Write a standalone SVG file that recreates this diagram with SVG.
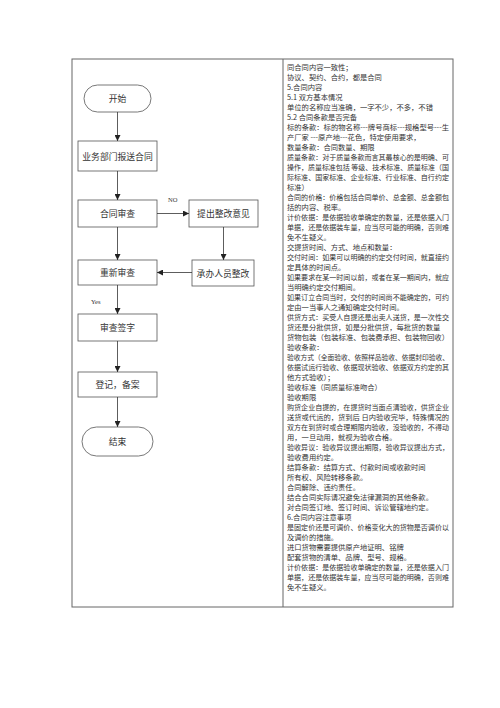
<svg xmlns="http://www.w3.org/2000/svg" width="500" height="708" viewBox="0 0 500 708">
<style>
.frame{fill:none;stroke:#666;stroke-width:1}
.shape{fill:#fff;stroke:#555;stroke-width:0.8}
.lbl{font-family:"Noto Sans CJK SC","Liberation Serif",serif;font-size:8.8px;fill:#333;text-anchor:middle;dominant-baseline:central}
.small{font-family:"Liberation Serif",serif;font-size:6.5px;fill:#333}
.conn line{stroke:#333;stroke-width:0.8;marker-end:url(#ah)}
.body{font-family:"Noto Sans CJK SC","Liberation Serif",serif;font-size:7.3px;fill:#333}
</style>
<defs>
<marker id="ah" markerUnits="userSpaceOnUse" markerWidth="6" markerHeight="6" refX="6" refY="3" orient="auto">
<path d="M0,0 L6,3 L0,6 z" fill="#222"/>
</marker>
</defs>
<rect width="500" height="708" fill="#fff"/>
<g id="table">
<rect class="frame" x="72" y="59" width="381" height="548"/>
<line class="frame" x1="283" y1="59" x2="283" y2="607"/>
</g>
<g id="start"><rect class="shape" x="84" y="85" width="67" height="27" rx="13.5"/><text class="lbl" x="117.5" y="98.5">开始</text></g>
<g id="submit"><rect class="shape" x="78" y="141" width="79" height="30"/><text class="lbl" x="117.5" y="156">业务部门报送合同</text></g>
<g id="review"><rect class="shape" x="78" y="200" width="79" height="27"/><text class="lbl" x="117.5" y="213.5">合同审查</text></g>
<g id="suggest"><rect class="shape" x="189" y="200" width="69" height="27"/><text class="lbl" x="223.5" y="213.5">提出整改意见</text></g>
<g id="fix"><rect class="shape" x="192" y="260" width="62" height="26"/><text class="lbl" x="223" y="273">承办人员整改</text></g>
<g id="rereview"><rect class="shape" x="78" y="260" width="79" height="25"/><text class="lbl" x="117.5" y="272.5">重新审查</text></g>
<g id="sign"><rect class="shape" x="78" y="314" width="79" height="27"/><text class="lbl" x="117.5" y="327.5">审查签字</text></g>
<g id="record"><rect class="shape" x="78" y="372" width="79" height="25"/><text class="lbl" x="117.5" y="384.5">登记，备案</text></g>
<g id="end"><rect class="shape" x="82" y="427" width="71" height="29" rx="14.5"/><text class="lbl" x="117.5" y="441.5">结束</text></g>
<g id="connectors" class="conn">
<line x1="117.5" y1="112" x2="117.5" y2="141"/>
<line x1="117.5" y1="171" x2="117.5" y2="200"/>
<line x1="157" y1="213.5" x2="189" y2="213.5"/>
<line x1="223.5" y1="227" x2="223.5" y2="260"/>
<line x1="192" y1="272.5" x2="157" y2="272.5"/>
<line x1="117.5" y1="227" x2="117.5" y2="260"/>
<line x1="117.5" y1="285" x2="117.5" y2="314"/>
<line x1="117.5" y1="341" x2="117.5" y2="372"/>
<line x1="117.5" y1="397" x2="117.5" y2="427"/>
</g>
<text class="small" x="168" y="201.5">NO</text>
<text class="small" x="91" y="304">Yes</text>
<g id="notes" class="body">
<text x="287" y="69.6">同合同内容一致性；</text>
<text x="287" y="79.6">协议、契约、合约，都是合同</text>
<text x="287" y="89.6">5.合同内容</text>
<text x="287" y="99.6">5.1 双方基本情况</text>
<text x="287" y="109.6">单位的名称应当准确，一字不少，不多，不错</text>
<text x="287" y="119.6">5.2 合同条款是否完备</text>
<text x="287" y="129.6" textLength="162" lengthAdjust="spacingAndGlyphs">标的条款：标的物名称---牌号商标---规格型号---生</text>
<text x="287" y="139.6">产厂家 ---原产地---花色，特定使用要求，</text>
<text x="287" y="149.6">数量条款：合同数量、期限</text>
<text x="287" y="159.6" textLength="162" lengthAdjust="spacingAndGlyphs">质量条款：对于质量条款而言其最核心的是明确、可</text>
<text x="287" y="169.6" textLength="162" lengthAdjust="spacingAndGlyphs">操作，质量标准包括 等级、技术标准、质量标准（国</text>
<text x="287" y="179.6" textLength="162" lengthAdjust="spacingAndGlyphs">际标准、国家标准、企业标准、行业标准、自行约定</text>
<text x="287" y="189.6">标准）</text>
<text x="287" y="199.6" textLength="162" lengthAdjust="spacingAndGlyphs">合同的价格：价格包括合同单价、总金额、总金额包</text>
<text x="287" y="209.6">括的内容、税率。</text>
<text x="287" y="219.6" textLength="162" lengthAdjust="spacingAndGlyphs">计价依据：是依据验收单确定的数量，还是依据入门</text>
<text x="287" y="229.6" textLength="162" lengthAdjust="spacingAndGlyphs">单据，还是依据装车量，应当尽可能的明确，否则难</text>
<text x="287" y="239.6">免不生疑义。</text>
<text x="287" y="249.6">交提货时间、方式、地点和数量：</text>
<text x="287" y="259.6" textLength="162" lengthAdjust="spacingAndGlyphs">交付时间：如果可以明确的约定交付时间，就直接约</text>
<text x="287" y="269.6">定具体的时间点。</text>
<text x="287" y="279.6" textLength="162" lengthAdjust="spacingAndGlyphs">如果要求在某一时间以前，或者在某一期间内，就应</text>
<text x="287" y="289.6">当明确约定交付期间。</text>
<text x="287" y="299.6" textLength="162" lengthAdjust="spacingAndGlyphs">如果订立合同当时，交付的时间尚不能确定的，可约</text>
<text x="287" y="309.6">定由一当事人之通知确定交付时间。</text>
<text x="287" y="319.6" textLength="162" lengthAdjust="spacingAndGlyphs">供货方式：买受人自提还是出卖人送货，是一次性交</text>
<text x="287" y="329.6">货还是分批供货，如是分批供货，每批货的数量</text>
<text x="287" y="339.6" textLength="162" lengthAdjust="spacingAndGlyphs">货物包装（包装标准、包装费承担、包装物回收）</text>
<text x="287" y="349.6">验收条款：</text>
<text x="287" y="359.6" textLength="162" lengthAdjust="spacingAndGlyphs">验收方式（全面验收、依照样品验收、依据封印验收、</text>
<text x="287" y="369.6" textLength="162" lengthAdjust="spacingAndGlyphs">依据试运行验收、依据现状验收、依据双方约定的其</text>
<text x="287" y="379.6">他方式验收）；</text>
<text x="287" y="389.6">验收标准（同质量标准吻合）</text>
<text x="287" y="399.6">验收期限</text>
<text x="287" y="409.6" textLength="162" lengthAdjust="spacingAndGlyphs">购货企业自提的，在提货时当面点清验收，供货企业</text>
<text x="287" y="419.6" textLength="162" lengthAdjust="spacingAndGlyphs">送货或代运的，货到后 日内验收完毕，特殊情况的</text>
<text x="287" y="429.6" textLength="162" lengthAdjust="spacingAndGlyphs">双方在到货时或合理期限内验收，没验收的，不得动</text>
<text x="287" y="439.6">用，一旦动用，就视为验收合格。</text>
<text x="287" y="449.6" textLength="162" lengthAdjust="spacingAndGlyphs">验收异议：验收异议提出期限，验收异议提出方式，</text>
<text x="287" y="459.6">验收费用约定。</text>
<text x="287" y="469.6">结算条款：结算方式、付款时间或收款时间</text>
<text x="287" y="479.6">所有权、风险转移条款。</text>
<text x="287" y="489.6">合同解除、违约责任。</text>
<text x="287" y="499.6">结合合同实际请况避免法律漏洞的其他条款。</text>
<text x="287" y="509.6">对合同签订地、签订时间、诉讼管辖地约定。</text>
<text x="287" y="519.6">6.合同内容注意事项</text>
<text x="287" y="529.6" textLength="162" lengthAdjust="spacingAndGlyphs">是固定价还是可调价、价格变化大的货物是否调价以</text>
<text x="287" y="539.6">及调价的措施。</text>
<text x="287" y="549.6">进口货物需要提供原产地证明、铭牌</text>
<text x="287" y="559.6">配套货物的清单、品牌、型号、规格。</text>
<text x="287" y="569.6" textLength="162" lengthAdjust="spacingAndGlyphs">计价依据：是依据验收单确定的数量，还是依据入门</text>
<text x="287" y="579.6" textLength="162" lengthAdjust="spacingAndGlyphs">单据，还是依据装车量，应当尽可能的明确，否则难</text>
<text x="287" y="589.6">免不生疑义。</text>
</g>
</svg>
